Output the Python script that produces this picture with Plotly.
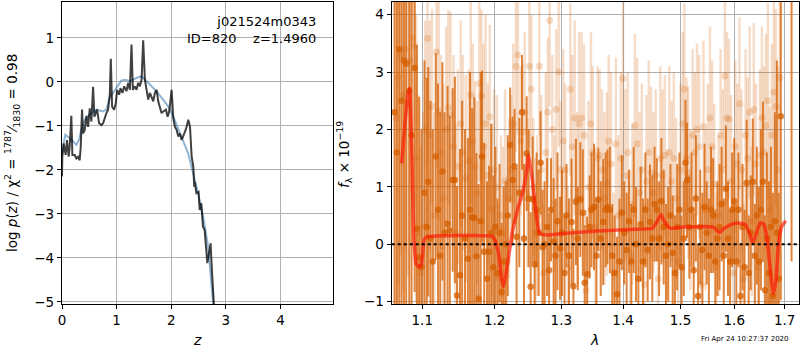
import plotly.graph_objects as go
import math

# ---------------- left panel data: log p(z) ----------------
z_black = [0.0, 0.006, 0.031, 0.067, 0.092, 0.122, 0.141, 0.171, 0.190, 0.232, 0.263, 0.294, 0.324, 0.343,
           0.367, 0.385, 0.416, 0.446, 0.477, 0.508, 0.538, 0.569, 0.593, 0.618, 0.642, 0.679, 0.722,
           0.752, 0.783, 0.813, 0.844, 0.875, 0.893, 0.917, 0.954, 0.985, 1.009, 1.046, 1.070, 1.107,
           1.138, 1.180, 1.211, 1.242, 1.272, 1.297, 1.333, 1.364, 1.394, 1.425, 1.456, 1.486, 1.517,
           1.547, 1.578, 1.609, 1.639, 1.670, 1.700, 1.731, 1.761, 1.792, 1.823, 1.853, 1.902, 1.933,
           1.963, 2.006, 2.037, 2.067, 2.098, 2.128, 2.159, 2.190, 2.220, 2.251, 2.281, 2.312, 2.343,
           2.373, 2.404, 2.42, 2.43, 2.46, 2.50, 2.52, 2.55, 2.58, 2.61, 2.66, 2.69, 2.72, 2.74, 2.77, 2.80]
logp_black = [-2.15, -1.70, -1.40, -1.66, -1.32, -1.70, -1.47, -0.77, -1.66, -1.66, -1.74, -1.70, -1.78, -1.47,
              -0.63, -1.17, -1.09, -0.77, -1.02, -0.60, -0.90, -0.11, -0.79, -0.71, -0.63, -0.94, -0.98,
              -0.94, -0.79, -0.71, -0.63, -0.29, 0.53, -0.56, -0.63, -0.48, -0.18, -0.29, -0.14, -0.25,
              -0.10, -0.21, -0.02, -0.18, 0.85, -0.18, -0.10, -0.18, -0.02, -0.10, 0.05, 0.95, 0.05,
              -0.21, -0.40, -0.25, -0.37, -0.44, -0.25, -0.18, -0.44, -0.56, -0.71, -0.67, -0.63, -0.79,
              -0.67, -0.18, -0.82, -1.02, -1.09, -1.24, -1.17, -1.32, -1.24, -1.13, -1.02, -0.86, -1.02,
              -1.70, -1.93, -2.38, -2.27, -2.53, -2.50, -2.91, -2.76, -3.29, -3.36, -4.12, -3.90, -3.67, -4.20, -5.00, -5.50]

z_blue = [0.0, 0.018, 0.061, 0.110, 0.171, 0.263, 0.311, 0.354, 0.415, 0.507, 0.629, 0.751, 0.812, 0.873,
          0.995, 1.087, 1.148, 1.239, 1.361, 1.453, 1.545, 1.636, 1.728, 1.850, 1.941, 2.033, 2.125,
          2.216, 2.308, 2.399, 2.491, 2.582, 2.674, 2.766, 2.83]
logp_blue = [-1.69, -1.47, -1.20, -1.24, -1.31, -1.43, -1.31, -1.09, -0.86, -0.74, -0.63, -0.67, -0.63, -0.36,
             -0.14, 0.03, 0.05, 0.02, 0.09, 0.13, 0.02, -0.10, -0.21, -0.40, -0.55, -0.78, -1.05,
             -1.31, -1.62, -2.07, -2.53, -3.06, -3.74, -5.03, -5.70]

z_ticks = [0, 1, 2, 3, 4]
logp_ticks = [-5, -4, -3, -2, -1, 0, 1]
z_range = [0.0, 4.96]
logp_range = [-5.05, 1.83]

# ---------------- right panel data: spectrum ----------------
dark_wave = [1.064, 1.067, 1.070, 1.073, 1.076, 1.079, 1.083, 1.086, 1.090, 1.093, 1.096, 1.099,
             1.103, 1.106, 1.108, 1.111, 1.114, 1.118, 1.121, 1.124, 1.127, 1.130, 1.134, 1.137, 1.141,
             1.144, 1.147, 1.151, 1.154, 1.158, 1.162, 1.165, 1.168, 1.171, 1.174, 1.177, 1.180, 1.182,
             1.185, 1.189, 1.192, 1.195, 1.198,
             1.201, 1.204, 1.207, 1.210, 1.213, 1.216, 1.219, 1.2225, 1.226, 1.229, 1.232, 1.236, 1.240,
             1.243, 1.247, 1.250, 1.253, 1.256, 1.259, 1.262, 1.265, 1.268, 1.271, 1.274, 1.278, 1.281,
             1.284, 1.288, 1.291, 1.294, 1.298,
             1.301, 1.305, 1.308, 1.312, 1.316, 1.319, 1.323, 1.326, 1.330, 1.334, 1.337, 1.341, 1.345,
             1.348, 1.352, 1.356, 1.359, 1.363, 1.367, 1.371, 1.374, 1.378, 1.382, 1.386, 1.390, 1.394,
             1.398, 1.402, 1.406, 1.410, 1.414, 1.418, 1.422, 1.426, 1.430, 1.434, 1.438, 1.442, 1.446,
             1.450, 1.454, 1.458, 1.462, 1.466, 1.470, 1.474, 1.478, 1.482, 1.486, 1.490, 1.494, 1.498,
             1.502, 1.506, 1.509, 1.512, 1.516, 1.520, 1.524, 1.528, 1.532, 1.536, 1.540, 1.544, 1.548,
             1.552, 1.556, 1.560, 1.564, 1.568, 1.572, 1.576, 1.580, 1.584, 1.588, 1.592, 1.596, 1.600,
             1.604, 1.608, 1.612, 1.616, 1.620, 1.624, 1.628, 1.632, 1.636, 1.640, 1.644, 1.648, 1.652,
             1.656, 1.660, 1.664, 1.668, 1.672, 1.676, 1.680, 1.684, 1.688, 1.692, 1.714]
dark_flux = [2.3, 1.6, 3.4, 2.5, 3.2, 3.15, 2.67, 1.9, 3.07, 0.27, -0.23, -0.40,
             0.9, 0.3, 1.09, 0.1, -0.3, 1.53, 0.6, -0.2, 1.27, 0.2, 0.36, 0.24, 1.12,
             1.12, -0.89, -0.54, 0.5, 0.1, -0.25, 0.6, 0.47, 0.46, -0.21, -0.95, 0.4, 1.53,
             -0.13, -0.6, -0.13, 0.2, -0.4,
             0.3, -0.5, 0.2, -0.83, -0.3, 0.0, 0.5, 1.73, 1.12, 1.36, 0.13, 0.9, 2.3,
             0.1, 1.58, 0.8, -0.74, 0.78, -0.35, 0.6, 0.2, 1.42, -0.05, 0.0, 0.3, -0.45,
             0.6, 0.05, -0.2, 0.4, -0.07,
             0.2, -0.5, 0.5, -0.2, 0.39, -0.73, 0.74, 0.1, 0.78, 0.55, -0.67, -0.52, 0.3,
             0.6, 0.65, -0.2, 0.78, 0.1, 0.39, 0.6, 0.65, 0.6, -0.2, -0.5, -0.87, -0.3,
             0.55, 0.2, -0.1, 0.4, -0.3, 0.6, 0.0, -0.6, 0.35, -0.3, 0.6, -0.1, 0.39,
             0.1, 0.7, 0.6, 0.1, 0.75, 0.3, -0.2, 0.0, 0.5, -0.15, -0.5, 0.3, 0.6,
             -0.4, 0.1, 1.42, 1.12, 0.3, 0.6, -0.45, 0.8, -0.9, 0.3, -0.1, 0.65, 0.2,
             -0.2, 0.6, 0.5, -0.3, 0.1, 0.3, 0.7, -0.2, 0.97, 0.1, -0.3, 0.6, 0.75,
             -0.3, 0.6, -0.9, 0.3, -0.4, 1.07, -0.5, 0.2, 1.09, -0.2, 0.5, -0.3, 0.6,
             1.09, -0.8, 0.1, -0.5, 0.3, -0.9, 0.4, 0.2, -0.6, 2.23, 4.5]
dark_err = [5.0, 4.8, 5.5, 4.6, 4.9, 4.5, 4.2, 3.8, 3.9, 3.2, 2.8, 2.4,
            2.3, 2.6, 2.0, 2.4, 2.3, 1.8, 2.2, 2.5, 1.9, 2.1, 2.4, 2.0, 1.6,
            1.8, 1.9, 2.2, 2.0, 1.9, 2.1, 2.4, 1.9, 2.1, 1.8, 2.0, 2.6, 1.5,
            1.9, 1.7, 1.5, 1.9, 1.6,
            1.4, 1.3, 1.2, 1.2, 1.3, 1.1, 1.4, 1.0, 1.1, 1.0, 1.2, 1.3, 1.0,
            1.3, 1.0, 1.2, 1.3, 1.1, 1.2, 1.0, 1.1, 0.9, 1.0, 1.1, 1.2, 1.0,
            0.9, 1.1, 1.0, 1.2, 0.9,
            1.1, 1.0, 0.9, 1.0, 1.1, 1.0, 1.1, 0.9, 1.0, 1.1, 1.0, 1.0, 0.9,
            1.0, 1.1, 1.0, 0.9, 1.0, 1.1, 1.0, 1.0, 1.1, 0.9, 1.0, 1.0, 1.1,
            1.0, 0.9, 1.0, 0.9, 1.0, 1.1, 1.0, 0.9, 1.0, 1.1, 1.0, 0.9, 1.0,
            1.1, 1.0, 0.9, 1.0, 1.1, 1.0, 0.9, 1.0, 0.9, 1.0, 1.0, 1.1, 1.0,
            0.9, 1.0, 1.1, 1.0, 0.9, 1.0, 1.0, 1.1, 0.9, 1.0, 1.0, 1.1, 0.9,
            1.0, 1.1, 1.0, 0.9, 1.0, 1.1, 1.0, 1.0, 1.1, 1.0, 0.9, 1.0, 1.1,
            1.0, 1.0, 0.9, 1.1, 1.0, 1.1, 1.0, 1.0, 1.1, 0.9, 1.2, 1.3, 1.4,
            1.4, 1.3, 1.5, 1.6, 1.4, 1.8, 1.9, 3.0, 1.5, 3.2, 4.8]

light_wave = [1.066, 1.069, 1.072, 1.075, 1.078, 1.081, 1.084, 1.087, 1.090, 1.092, 1.095, 1.098,
              1.101, 1.104, 1.107, 1.110, 1.113, 1.116, 1.119, 1.122, 1.125, 1.128, 1.132, 1.135,
              1.138, 1.142, 1.145, 1.148, 1.152, 1.155, 1.159, 1.163, 1.166, 1.169, 1.172, 1.175,
              1.178, 1.181, 1.184, 1.187, 1.190, 1.193, 1.196, 1.199,
              1.203, 1.206, 1.209, 1.212, 1.215, 1.218, 1.221, 1.224, 1.227, 1.231, 1.234, 1.238,
              1.241, 1.244, 1.248, 1.251, 1.254, 1.257, 1.260, 1.263, 1.266, 1.269, 1.272, 1.276,
              1.279, 1.282, 1.286, 1.289, 1.292, 1.296, 1.299,
              1.303, 1.306, 1.310, 1.314, 1.317, 1.321, 1.325, 1.328, 1.332, 1.336, 1.339, 1.343,
              1.347, 1.350, 1.354, 1.358, 1.361, 1.365, 1.369, 1.373, 1.376, 1.380, 1.384, 1.388,
              1.392, 1.396, 1.400, 1.404, 1.408, 1.412, 1.416, 1.420, 1.424, 1.428, 1.432, 1.436,
              1.440, 1.444, 1.448, 1.452, 1.456, 1.460, 1.464, 1.468, 1.472, 1.476, 1.480, 1.484,
              1.488, 1.492, 1.496, 1.500, 1.504, 1.507, 1.511, 1.514, 1.518, 1.522, 1.526, 1.530,
              1.534, 1.538, 1.542, 1.546, 1.550, 1.554, 1.558, 1.562, 1.566, 1.570, 1.574, 1.578,
              1.582, 1.586, 1.590, 1.594, 1.598, 1.602, 1.606, 1.610, 1.614, 1.618, 1.622, 1.626,
              1.630, 1.634, 1.638, 1.642, 1.646, 1.650, 1.654, 1.658, 1.662, 1.666, 1.670, 1.674,
              1.678, 1.682, 1.686, 1.690]
light_flux = [2.2, 2.9, 3.3, 2.6, 3.4, 2.45, 3.2, 3.59, 3.46, 1.5, 0.2, -0.5,
              0.3, 2.0, 3.59, 1.9, 2.4, 0.5, 3.35, 2.32, 1.6, 0.8, 2.0, 2.38,
              2.25, 1.7, 0.2, 1.35, 2.1, 1.6, 1.15, 1.45, 2.6, 1.8, 1.35, 0.9,
              2.8, 2.59, 1.7, 2.1, 1.2, 2.22, 0.6, 1.3,
              1.0, -0.6, 0.5, 0.2, 1.1, -0.3, 0.8, 1.3, 2.1, 3.1, 3.3, 1.8,
              1.95, 2.3, 0.9, 3.1, 2.7, 1.0, 0.2, 0.5, 3.1, 1.3, -0.5, 1.6,
              2.3, 3.9, 2.0, 0.7, 2.35, 3.0, 1.3,
              1.8, 1.3, -0.4, 2.7, 1.7, 2.2, 0.8, 2.1, 2.2, 1.9, -0.8, 1.0,
              2.1, 1.6, 0.3, 1.5, 1.55, 1.3, 0.8, 1.05, 1.8, 1.4, -0.5, 1.75,
              0.5, 1.5, 2.89, 1.2, 1.6, -0.2, 0.7, 2.07, 1.75, 0.9, 1.3, -0.7,
              1.1, 1.6, 1.25, 0.9, 1.2, -0.6, 1.5, 1.2, 1.55, 0.35, 1.6, 1.1,
              1.5, 0.8, -0.3, 1.3, 2.1, 2.7, 1.5, 1.25, 0.6, 1.9, 1.6, 2.0,
              1.7, -0.7, 2.05, 0.6, 1.3, 2.2, 1.7, 1.05, -0.4, 0.5, 1.9, 1.3,
              2.93, 2.2, 2.18, 1.1, -0.5, 1.7, 1.4, 2.45, 1.3, -0.6, 1.9, 1.5,
              2.3, 0.4, 2.35, 1.4, -0.4, 1.55, 2.2, 1.6, 2.07, 2.5, 0.6, 1.9,
              2.65, 2.4, 1.3, 2.9]
light_err = [4.0, 3.6, 3.5, 3.4, 3.5, 3.0, 3.2, 3.0, 2.8, 2.5, 2.4, 2.2,
             2.0, 1.9, 2.2, 2.0, 1.7, 1.8, 2.0, 1.9, 1.7, 2.0, 1.8, 1.7,
             1.8, 1.6, 1.9, 1.7, 1.8, 1.7, 1.8, 1.6, 1.9, 1.7, 1.5, 1.6,
             1.7, 1.5, 1.8, 1.9, 1.6, 1.6, 1.5, 1.4,
             1.6, 1.3, 1.4, 1.5, 1.6, 1.5, 1.4, 1.3, 1.4, 1.5, 1.4, 1.3,
             1.2, 1.4, 1.3, 1.4, 1.3, 1.2, 1.3, 1.4, 1.2, 1.3, 1.2, 1.4,
             1.3, 1.5, 1.3, 1.2, 1.4, 1.3, 1.2,
             1.6, 1.5, 1.4, 1.5, 1.6, 1.7, 1.5, 1.6, 1.5, 1.6, 1.4, 1.5,
             1.6, 1.5, 1.4, 1.6, 1.5, 1.4, 1.5, 1.6, 1.5, 1.6, 1.4, 1.5,
             1.4, 1.5, 1.6, 1.5, 1.4, 1.5, 1.4, 1.6, 1.5, 1.4, 1.5, 1.4,
             1.5, 1.6, 1.5, 1.4, 1.5, 1.4, 1.6, 1.5, 1.4, 1.3, 1.5, 1.4,
             1.5, 1.4, 1.3, 1.5, 1.6, 1.5, 1.4, 1.5, 1.4, 1.5, 1.4, 1.5,
             1.6, 1.4, 1.5, 1.4, 1.5, 1.6, 1.5, 1.4, 1.3, 1.4, 1.5, 1.4,
             1.6, 1.5, 1.4, 1.5, 1.3, 1.5, 1.4, 1.5, 1.4, 1.3, 1.5, 1.4,
             1.5, 1.3, 1.5, 1.4, 1.4, 1.5, 1.6, 1.5, 1.6, 1.7, 1.8, 1.6,
             1.6, 1.7, 1.8, 2.0]

model_wave = [1.0732, 1.0803, 1.0833, 1.0866, 1.0887, 1.092, 1.0962, 1.0992, 1.1023, 1.106, 1.1959,
              1.2005, 1.2055, 1.2105, 1.213, 1.218, 1.2255, 1.233, 1.2405, 1.2455, 1.25, 1.2555,
              1.2605, 1.2665, 1.278, 1.3032, 1.357, 1.4116, 1.4494, 1.4581, 1.4651, 1.4715, 1.4814,
              1.505, 1.5609, 1.5671, 1.572, 1.5795, 1.5919, 1.6079, 1.6211, 1.6296, 1.6362, 1.6428,
              1.6507, 1.6572, 1.6638, 1.6704, 1.677, 1.6822, 1.6868, 1.6934, 1.702]
model_flux = [1.41, 2.51, 2.72, 1.47, 0.19, -0.34, -0.40, -0.34, 0.07, 0.13, 0.14,
              0.07, -0.16, -0.63, -0.74, -0.40, 0.19, 0.59, 0.88, 1.17, 1.55, 1.12,
              0.59, 0.19, 0.16, 0.19, 0.23, 0.26, 0.28, 0.39, 0.52, 0.39, 0.28,
              0.30, 0.30, 0.24, 0.20, 0.27, 0.34, 0.37, 0.35, 0.19, 0.02, 0.19,
              0.37, 0.36, 0.13, -0.40, -0.86, -0.63, -0.05, 0.30, 0.41]

lam_ticks = [1.1, 1.2, 1.3, 1.4, 1.5, 1.6, 1.7]
flux_ticks = [-1, 0, 1, 2, 3, 4]
lam_range = [1.0604, 1.7294]
flux_range = [-1.04, 4.23]
zero_level = [0.0, 0.0]

FONT = "DejaVu Sans"
ORANGE_DARK = "rgba(213,94,0,0.76)"
ORANGE_LIGHT = "rgba(213,94,0,0.21)"

def fmt(v):
    s = f"{v:g}"
    return s.replace("-", "\u2212")

fig = go.Figure()

# left panel
fig.add_trace(go.Scatter(x=z_blue, y=logp_blue, mode="lines", xaxis="x", yaxis="y",
                         line=dict(color="rgba(70,130,180,0.6)", width=2), showlegend=False))
fig.add_trace(go.Scatter(x=z_black, y=logp_black, mode="lines", xaxis="x", yaxis="y",
                         line=dict(color="rgba(0,0,0,0.75)", width=2), showlegend=False))

# right panel
fig.add_trace(go.Scatter(x=light_wave, y=light_flux, mode="markers", xaxis="x2", yaxis="y2",
                         marker=dict(color=ORANGE_LIGHT, size=7, line=dict(width=0)),
                         error_y=dict(type="data", array=light_err, color=ORANGE_LIGHT,
                                      thickness=2.5, width=0),
                         showlegend=False))
fig.add_trace(go.Scatter(x=dark_wave, y=dark_flux, mode="markers", xaxis="x2", yaxis="y2",
                         marker=dict(color=ORANGE_DARK, size=6.5, line=dict(width=0)),
                         error_y=dict(type="data", array=dark_err, color=ORANGE_DARK,
                                      thickness=2.0, width=0),
                         showlegend=False))
fig.add_trace(go.Scatter(x=model_wave, y=model_flux, mode="lines", xaxis="x2", yaxis="y2",
                         line=dict(color="rgba(255,20,0,0.65)", width=3.5, shape="spline",
                                   smoothing=0.4),
                         showlegend=False))
fig.add_trace(go.Scatter(x=lam_range, y=zero_level, mode="lines", xaxis="x2", yaxis="y2",
                         line=dict(color="black", width=2, dash="dot"), showlegend=False))

axis_common = dict(showline=True, linecolor="black", linewidth=1.2, mirror=True,
                   ticks="outside", ticklen=4, tickcolor="black", tickwidth=1,
                   showgrid=True, gridcolor="#b0b0b0", gridwidth=1, zeroline=False,
                   automargin=False,
                   tickfont=dict(family=FONT, size=13.5, color="black"))

ydom = [1 - 304 / 350, 1 - 1.5 / 350]

fig.update_layout(
    width=800, height=350,
    margin=dict(l=0, r=0, t=0, b=0, autoexpand=False),
    paper_bgcolor="white", plot_bgcolor="white",
    font=dict(family=FONT, color="black"),
    xaxis=dict(domain=[62 / 800, 333 / 800], range=z_range, tickvals=z_ticks,
               ticktext=[fmt(v) for v in z_ticks], anchor="y", **axis_common),
    yaxis=dict(domain=ydom, range=logp_range, tickvals=logp_ticks,
               ticktext=[fmt(v) for v in logp_ticks], anchor="x", **axis_common),
    xaxis2=dict(domain=[391.7 / 800, 799.0 / 800], type="log",
                range=[math.log10(lam_range[0]), math.log10(lam_range[1])],
                tickvals=lam_ticks, ticktext=[fmt(v) for v in lam_ticks], anchor="y2",
                **axis_common),
    yaxis2=dict(domain=ydom, range=flux_range, tickvals=flux_ticks,
                ticktext=[fmt(v) for v in flux_ticks], anchor="x2", **axis_common),
)

def label(text, px, py, size=13.5, angle=0, xanchor="center"):
    fig.add_annotation(text=text, xref="paper", yref="paper", x=px / 800, y=1 - py / 350,
                       xanchor=xanchor, yanchor="middle", textangle=angle, showarrow=False,
                       font=dict(family=FONT, size=size, color="black"))

fig.add_annotation(text="j021524m0343<br>ID=820    z=1.4960", xref="paper", yref="paper",
                   x=318 / 800, y=1 - 12 / 350, xanchor="right", yanchor="top", align="right",
                   showarrow=False, font=dict(family=FONT, size=13, color="black"))
label("log <i>p</i>(<i>z</i>) / χ<sup>2</sup> = <sup>1787</sup>⁄<sub>1830</sub> = 0.98", 12, 153, angle=-90)
label("<i>f</i><sub>λ</sub> × 10<sup>−19</sup>", 344, 155, angle=-90)
label("<i>z</i>", 197, 340, size=14)
label("<i>λ</i>", 594, 340, size=14)
label("Fri Apr 24 10:27:37 2020", 745, 339, size=7)

fig.write_html("out.html", config={"displayModeBar": False},
               post_script="document.body.style.margin='0';document.body.style.padding='0';")
